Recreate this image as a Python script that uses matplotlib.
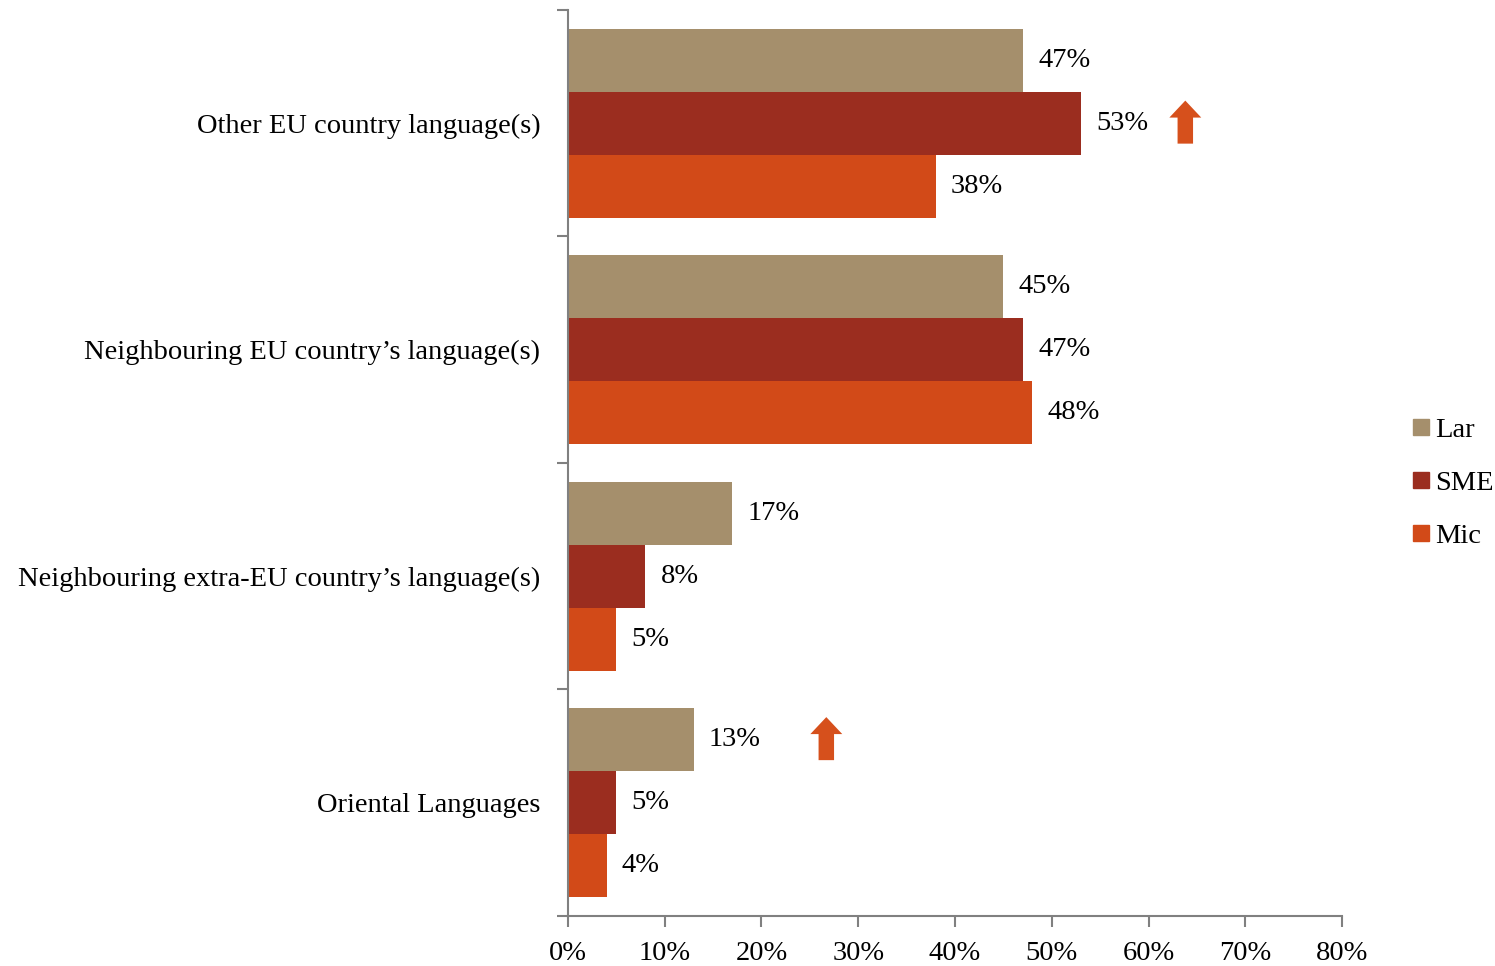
import numpy as np
import matplotlib.pyplot as plt
from matplotlib.patches import FancyArrow
from matplotlib.lines import Line2D

categories = ["Other EU country language(s)",
              "Neighbouring EU country\u2019s language(s)",
              "Neighbouring extra-EU country\u2019s language(s)",
              "Oriental Languages"]
series = ["Lar", "SME", "Mic"]
lar = [47, 45, 17, 13]
sme = [53, 47, 8, 5]
mic = [38, 48, 5, 4]
colors = ["#A58F6C", "#9B2D1F", "#D24A18"]
arrow_color = "#D6501C"
# (x value in %, category index, series index)
arrows = [(63.8, 0, 1), (26.7, 3, 0)]

plt.rcParams['font.family'] = ['Liberation Serif', 'DejaVu Serif']
fs = 20.5

fig = plt.figure(figsize=(14.95, 9.66), dpi=100)
ax = fig.add_axes([0.3799, 0.0518, 0.8977 - 0.3799, 0.98965 - 0.0518])

h = 0.278
y = np.arange(len(categories))
offsets = [-h, 0, h]
for vals, off, c, name in zip([lar, sme, mic], offsets, colors, series):
    ax.barh(y + off, vals, height=h, color=c, label=name)
    for yi, v in zip(y, vals):
        ax.annotate(f"{v}%", (v, yi + off), xytext=(11, 0), textcoords="offset points",
                    va="center", ha="left", fontsize=fs)

for xv, ci, si in arrows:
    ax.add_patch(FancyArrow(xv, y[ci] + offsets[si] + 0.09, 0, -0.19, width=1.6,
                            head_width=3.3, head_length=0.075, length_includes_head=True,
                            color=arrow_color, lw=0))

ax.set_xlim(0, 80)
ax.set_ylim(3.5, -0.5)
ax.set_xticks(np.arange(0, 81, 10))
ax.set_xticklabels([f"{t}%" for t in range(0, 81, 10)], fontsize=fs)
ax.set_yticks(np.arange(-0.5, 4, 1))
ax.set_yticklabels([])
ax.set_yticks(y, minor=True)
ax.set_yticklabels(categories, minor=True, fontsize=fs)
ax.tick_params(axis='y', which='minor', length=0, pad=20)
ax.tick_params(axis='y', which='major', length=8, width=1.5, color="#808080", direction="out")
ax.tick_params(axis='x', length=8, width=1.5, color="#808080", direction="out", pad=10)
for s in ["top", "right"]:
    ax.spines[s].set_visible(False)
for s in ["left", "bottom"]:
    ax.spines[s].set_color("#808080")
    ax.spines[s].set_linewidth(1.5)

handles = [Line2D([], [], marker="s", ls="", color=c, markersize=12) for c in colors]
fig.legend(handles, series, loc="center left", bbox_to_anchor=(0.9335, 0.5),
           frameon=False, fontsize=fs, handletextpad=0.0, labelspacing=0.95,
           handlelength=1.0, borderaxespad=0)

fig.savefig("out.png", dpi=100)
